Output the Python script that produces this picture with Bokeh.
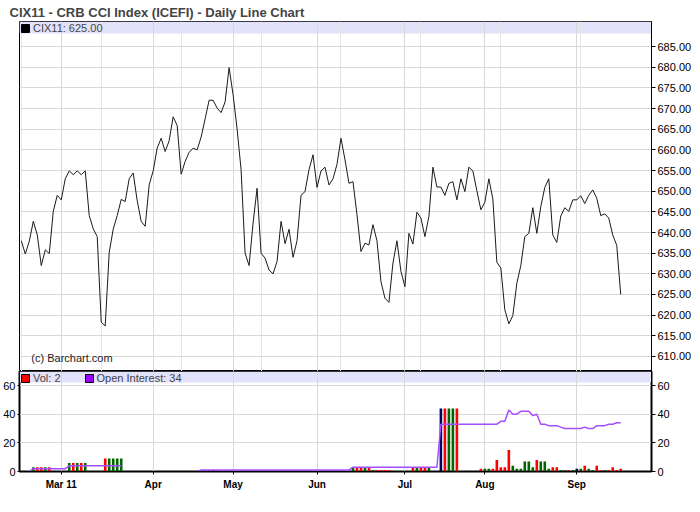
from bokeh.plotting import figure
from bokeh.layouts import column
from bokeh.models import (ColumnDataSource, FixedTicker, Grid, LinearAxis, Range1d,
                          BoxAnnotation, Label, Legend, LegendItem, NumeralTickFormatter)
from bokeh.embed import file_html
from bokeh.resources import INLINE

nan = float("nan")

title_text = "CIX11 - CRB CCI Index (ICEFI) - Daily Line Chart"
symbol = "CIX11"
credit = "(c) Barchart.com"

# daily closes, one per trading day (index 0 = first session shown)
close = [
    638.0, 634.8, 637.9, 642.7, 639.4, 632.0, 635.8, 634.9, 645.1, 649.0,
    647.9, 653.0, 654.9, 654.0, 654.9, 654.0, 654.9, 644.1, 640.9, 639.0,
    618.3, 617.4, 635.2, 640.8, 644.1, 648.0, 647.5, 653.0, 654.4, 647.7,
    642.7, 641.5, 651.5, 654.9, 660.4, 662.8, 659.6, 662.2, 668.0, 665.9,
    654.1, 657.2, 659.4, 660.4, 660.0, 663.1, 667.5, 672.0, 672.0, 670.1,
    669.0, 671.6, 679.9, 673.3, 665.1, 655.2, 635.0, 632.0, 642.3, 650.7,
    635.0, 633.8, 630.9, 630.0, 633.0, 642.7, 637.3, 640.8, 634.0, 638.0,
    649.0, 649.9, 655.2, 658.8, 650.9, 654.9, 655.8, 651.5, 653.0, 656.5,
    662.8, 657.6, 651.9, 652.3, 644.3, 635.4, 637.4, 637.0, 641.9, 638.0,
    628.1, 624.1, 623.1, 632.6, 638.0, 630.6, 626.9, 639.8, 637.2, 644.9,
    643.5, 639.0, 643.9, 655.8, 651.0, 651.0, 649.0, 651.9, 652.3, 647.9,
    653.0, 649.9, 655.8, 654.9, 650.1, 645.5, 647.3, 653.0, 648.1, 632.8,
    631.4, 621.3, 617.9, 619.9, 627.7, 632.0, 639.0, 639.8, 646.0, 639.8,
    646.3, 650.9, 653.0, 639.4, 637.6, 644.0, 646.0, 645.1, 647.9, 647.9,
    648.9, 647.0, 649.0, 650.3, 648.3, 644.1, 644.5, 643.5, 639.4, 636.9,
    625.0,
]

volume = [
    0, 0, 0, 3, 3, 3, 3, 3, 0, 0,
    0, 0, 6, 6, 6, 6, 6, 0, 0, 0,
    0, 9, 9, 9, 9, 9, 0, 0, 0, 0,
    0, 0, 0, 0, 0, 0, 0, 0, 0, 0,
    0, 0, 0, 0, 0, 1, 1, 1, 1, 1,
    0, 0, 0, 0, 0, 0, 0, 0, 0, 0,
    0, 0, 0, 0, 0, 0, 0, 0, 0, 0,
    0, 0, 0, 0, 0, 0, 0, 0, 0, 0,
    0, 0, 0, 3, 3, 3, 3, 3, 1, 1,
    1, 1, 1, 0, 0, 0, 0, 0, 3, 3,
    3, 3, 3, 0, 0, 44, 44, 44, 44, 44,
    0, 0, 0, 0, 0, 2, 2, 2, 2, 8,
    3, 3, 15, 4, 2, 2, 7, 7, 3, 8,
    7, 7, 2, 3, 3, 1, 1, 1, 1, 2,
    2, 4, 2, 1, 4, 1, 1, 1, 3, 1,
    2,
]

open_interest = [
    nan, nan, 0, 2, 2, 2, 2, 2, 2, 2,
    2, 2, 4, 4, 4, 4, 4, 4, 4, 4,
    4, 4, 4, 4, 4, 4, nan, nan, nan, nan,
    nan, nan, nan, nan, nan, nan, nan, nan, nan, nan,
    nan, nan, nan, nan, 0, 1, 1, 1, 1, 1,
    1, 1, 1, 1, 1, 1, 1, 1, 1, 1,
    1, 1, 1, 1, 1, 1, 1, 1, 1, 1,
    1, 1, 1, 1, 1, 1, 1, 1, 1, 1,
    1, 1, 1, 3, 3, 3, 3, 3, 3, 3,
    3, 3, 3, 3, 3, 3, 3, 3, 3, 3,
    3, 3, 3, 3, 3, 33, 33, 33, 33, 33,
    33, 33, 33, 33, 33, 33, 33, 33, 33, 33,
    35, 35, 43, 40, 40, 42, 42, 42, 39, 40,
    33, 33, 32, 32, 32, 31, 30, 30, 30, 30,
    30, 31, 30, 30, 32, 32, 32, 33, 33, 34,
    34,
]

# month ticks (trading-day index of first session of each month)
tick_idx = [10, 33, 53, 74, 96, 116, 139]
tick_labels = ["Mar 11", "Apr", "May", "Jun", "Jul", "Aug", "Sep"]
price_ticks = [610, 615, 620, 625, 630, 635, 640, 645, 650, 655, 660, 665, 670, 675, 680, 685]
vol_ticks = [0, 20, 40, 60]

FONT = "Liberation Sans"
GRID = "#d8d8d8"
BAND = "#e2e2fa"
UP, DOWN, FLAT = "#006600", "#ff0000", "#000066"
OI_COLOR = "#a64dff"
LB, RB = 16, 36
FW = 684 - LB - RB

idx = list(range(len(close)))
x_rng = Range1d(-0.45, 157.7)


def legend_box(items):
    return Legend(items=items, location="top_left", orientation="horizontal",
                  background_fill_alpha=0, border_line_alpha=0, inactive_fill_alpha=0,
                  glyph_width=10, glyph_height=10, label_height=10,
                  label_text_font=FONT, label_text_font_size="11px", label_standoff=3,
                  padding=0, margin=1, spacing=23)


# ---------------- price panel ----------------
p1 = figure(frame_width=FW, frame_height=350, x_range=x_rng, y_range=Range1d(606.37, 691.05),
            output_backend="svg", toolbar_location=None, x_axis_location=None,
            y_axis_location="right", min_border_left=LB, min_border_right=RB,
            min_border_top=0, min_border_bottom=0, title=title_text)
p1.title.text_font = FONT
p1.title.text_font_size = "13px"
p1.title.text_font_style = "bold"
p1.title.align = "left"
p1.title.offset = -10
p1.title.standoff = 4
p1.outline_line_color = "black"
p1.outline_line_width = 1
p1.background_fill_color = "white"
p1.border_fill_color = "white"

ya = p1.yaxis[0]
ya.ticker = FixedTicker(ticks=price_ticks)
ya.formatter = NumeralTickFormatter(format="0.00")
ya.major_label_text_font = FONT
ya.major_label_text_font_size = "11px"
ya.major_label_text_color = "black"
ya.major_tick_out = 4
ya.major_tick_in = 0
ya.minor_tick_line_color = None
ya.major_label_standoff = 2
ya.axis_line_color = "black"
p1.ygrid.ticker = FixedTicker(ticks=price_ticks)
p1.ygrid.grid_line_color = GRID
p1.add_layout(Grid(dimension=0, ticker=FixedTicker(ticks=tick_idx), grid_line_color=GRID))

p1.add_layout(BoxAnnotation(bottom=688.15, fill_color=BAND, fill_alpha=1,
                            line_color=None, level="image"))

src = ColumnDataSource(dict(idx=idx, close=close))
p1.line(x="idx", y="close", source=src, line_color="#1a1a1a", line_width=1)

# hidden proxy renderer only used to draw the square legend swatch
proxy1 = p1.vbar(x="idx", top="close", source=src, width=0.5, fill_color="black",
                 line_color="black", visible=False)
p1.add_layout(legend_box([LegendItem(label=f"{symbol}: {close[-1]:.2f}", renderers=[proxy1])]))

p1.add_layout(Label(x=2.5, y=608.3, text=credit, text_font=FONT, text_font_size="11px",
                    text_color="#222222"))

# ---------------- volume / open interest panel ----------------
p2 = figure(frame_width=FW, frame_height=100, x_range=x_rng, y_range=Range1d(0, 69.8),
            output_backend="svg", toolbar_location=None, y_axis_location="left",
            min_border_left=LB, min_border_right=RB, min_border_top=0, min_border_bottom=0)
p2.outline_line_color = "black"
p2.outline_line_width = 2
p2.background_fill_color = "white"
p2.border_fill_color = "white"

right_ax = LinearAxis()
p2.add_layout(right_ax, "right")
for ax, tout in ((p2.yaxis[0], 2), (right_ax, 4)):
    ax.ticker = FixedTicker(ticks=vol_ticks)
    ax.major_label_text_font = FONT
    ax.major_label_text_font_size = "11px"
    ax.major_label_text_color = "black"
    ax.major_tick_out = tout
    ax.major_tick_in = 0
    ax.minor_tick_line_color = None
    ax.major_label_standoff = 2
    ax.axis_line_color = "black"

xa = p2.xaxis[0]
xa.ticker = FixedTicker(ticks=tick_idx)
xa.major_label_overrides = {t: lab for t, lab in zip(tick_idx, tick_labels)}
xa.major_label_text_font = FONT
xa.major_label_text_font_size = "10px"
xa.major_label_text_font_style = "bold"
xa.major_label_text_color = "black"
xa.major_tick_out = 3
xa.major_tick_in = 0
xa.minor_tick_line_color = None
xa.major_label_standoff = 4
xa.axis_line_color = "black"
p2.xgrid.ticker = FixedTicker(ticks=tick_idx)
p2.xgrid.grid_line_color = GRID
p2.ygrid.ticker = FixedTicker(ticks=vol_ticks)
p2.ygrid.grid_line_color = GRID

p2.add_layout(BoxAnnotation(bottom=62.1, fill_color=BAND, fill_alpha=1,
                            line_color=None, level="image"))

bar_x, bar_top, bar_col = [], [], []
for i, v in enumerate(volume):
    if v <= 0:
        continue
    d = round(close[i] - close[i - 1], 2) if i > 0 else 0
    bar_x.append(i)
    bar_top.append(v)
    bar_col.append(UP if d > 0 else (DOWN if d < 0 else FLAT))
vsrc = ColumnDataSource(dict(idx=bar_x, vol=bar_top, color=bar_col))
p2.vbar(x="idx", top="vol", width=0.65, fill_color="color", line_color=None, source=vsrc)

osrc = ColumnDataSource(dict(idx=idx, oi=open_interest))
p2.line(x="idx", y="oi", source=osrc, line_color=OI_COLOR, line_width=1.5)

proxy_v = p2.vbar(x="idx", top="vol", source=vsrc, width=0.5, fill_color=DOWN,
                  line_color="black", visible=False)
proxy_o = p2.vbar(x="idx", top="vol", source=vsrc, width=0.5, fill_color="#9900ff",
                  line_color="black", visible=False)
last_oi = [v for v in open_interest if v == v][-1]
p2.add_layout(legend_box([LegendItem(label=f"Vol: {volume[-1]}", renderers=[proxy_v]),
                          LegendItem(label=f"Open Interest: {last_oi:g}", renderers=[proxy_o])]))

layout = column(p1, p2)
open("out.html", "w").write(file_html(layout, INLINE))
